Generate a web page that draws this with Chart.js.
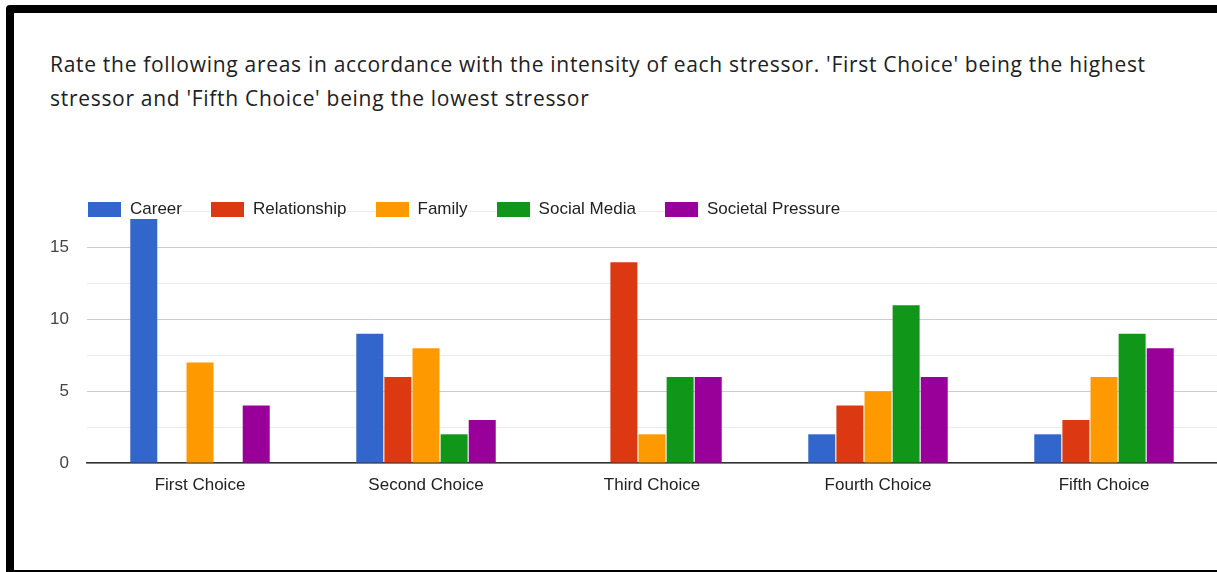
<!DOCTYPE html>
<html>
<head>
<meta charset="utf-8">
<script src="https://cdn.jsdelivr.net/npm/chart.js@4"></script>
<style>
  html, body { margin: 0; padding: 0; background: #fff; }
  body { width: 1217px; height: 572px; position: relative; overflow: hidden; }
  .frame {
    position: absolute; left: 6px; top: 5px; width: 1300px; height: 557px;
    border: 8px solid #000; border-radius: 4px; background: #fff;
  }
  .title {
    position: absolute; left: 50px; top: 47px; width: 1120px;
    font-family: "Open Sans", sans-serif; font-size: 21px; line-height: 34px;
    letter-spacing: 0.7px; color: #202124;
  }
  #chartBox { position: absolute; left: 0; top: 0; width: 1217px; height: 572px; }
  .legend {
    position: absolute; left: 88px; top: 200px; display: flex;
    font-family: "Liberation Sans", Arial, sans-serif; font-size: 17px; color: #222;
  }
  .legend .item { display: flex; align-items: center; background: #fff; margin-right: 29px; height: 18px; }
  .legend .box { width: 33px; height: 15px; margin-right: 9px; }
</style>
</head>
<body>
<div class="frame"></div>
<div class="title">Rate the following areas in accordance with the intensity of each stressor. 'First Choice' being the highest stressor and 'Fifth Choice' being the lowest stressor</div>
<div id="chartBox"><canvas id="chart" width="1217" height="572"></canvas></div>
<div class="legend" id="legend"></div>
<script>
const categories = ["First Choice", "Second Choice", "Third Choice", "Fourth Choice", "Fifth Choice"];
const seriesNames = ["Career", "Relationship", "Family", "Social Media", "Societal Pressure"];
const career = [17, 9, 0, 2, 2];
const relationship = [0, 6, 14, 4, 3];
const family = [7, 8, 2, 5, 6];
const socialMedia = [0, 2, 6, 11, 9];
const societalPressure = [4, 3, 6, 6, 8];
const yTicks = [0, 2.5, 5, 7.5, 10, 12.5, 15, 17.5];
const colors = ["#3366cc", "#dc3912", "#ff9900", "#109618", "#990099"];

const values = [career, relationship, family, socialMedia, societalPressure];

// html legend sits on the top gridline like the original
const legendEl = document.getElementById("legend");
seriesNames.forEach((name, i) => {
  const item = document.createElement("div");
  item.className = "item";
  item.innerHTML = `<span class="box" style="background:${colors[i]}"></span><span>${name}</span>`;
  legendEl.appendChild(item);
});

const ctx = document.getElementById("chart").getContext("2d");
new Chart(ctx, {
  type: "bar",
  data: {
    labels: categories,
    datasets: seriesNames.map((name, i) => ({
      label: name,
      data: values[i],
      backgroundColor: colors[i],
      categoryPercentage: 0.622,
      barPercentage: 0.96
    }))
  },
  options: {
    responsive: false,
    animation: false,
    layout: { padding: { top: 199, right: 0, bottom: 69, left: 0 } },
    plugins: {
      legend: { display: false },
      tooltip: { enabled: false }
    },
    scales: {
      x: {
        grid: { display: false, drawTicks: false },
        border: { color: "#333", width: 1.5 },
        ticks: {
          padding: 12,
          color: "#222",
          font: { family: "'Liberation Sans', Arial, sans-serif", size: 17 }
        },
        afterFit: (s) => { s.height = 40; }
      },
      y: {
        min: 0,
        max: 18.4,
        afterBuildTicks: (s) => { s.ticks = yTicks.map(v => ({ value: v })); },
        afterFit: (s) => { s.width = 87; },
        grid: {
          drawTicks: false,
          color: (c) => (c.tick && c.tick.value % 5 === 0) ? "#cccccc" : "#ebebeb"
        },
        border: { display: false },
        ticks: {
          padding: 18,
          color: "#444",
          font: { family: "'Liberation Sans', Arial, sans-serif", size: 17 },
          callback: (v) => (v % 5 === 0 ? v : "")
        }
      }
    }
  }
});
</script>
</body>
</html>
